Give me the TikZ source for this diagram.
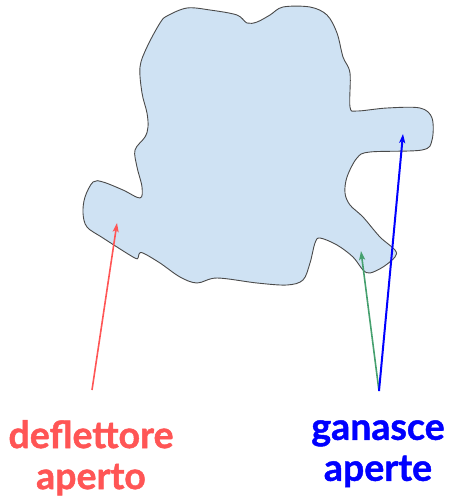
\documentclass[tikz,border=0pt]{standalone}
\usepackage{fontspec}
\newfontfamily\labfont{Lato}[BoldFeatures={FakeBold=1.2}]
\usetikzlibrary{arrows.meta}
\definecolor{blobfill}{HTML}{CFE2F3}
\definecolor{blobline}{HTML}{4A4A4A}
\definecolor{lred}{HTML}{FF5555}
\definecolor{lgreen}{HTML}{45A06E}
\definecolor{lblue}{HTML}{0000FF}
\tikzset{
  blob/.style={fill=blobfill, draw=blobline, line width=0.9pt},
  pointer/.style={-{Stealth[length=9pt,width=6pt,inset=2pt]}, line width=1.6pt},
  caption/.style={font=\labfont\bfseries\fontsize{37.5}{41}\selectfont, align=center, anchor=north, inner sep=0pt}
}
\begin{document}
\begin{tikzpicture}[x=1pt,y=-1pt]
\useasboundingbox (0,0) rectangle (452,498);
% outline of the body
\draw[blob] plot[smooth cycle, tension=0.55] coordinates {
 (160,23) (167,16) (187,8) (210,10) (237,15) (247,23) (257,22) (270,15)
 (283,7) (310,7) (327,15) (337,33) (343,57) (350,73) (350,107) (357,111)
 (387,108) (420,108) (432,118) (432,140) (422,150) (370,152) (357,158)
 (347,177) (345,193) (350,205) (363,217) (380,237) (395,250) (395,257)
 (383,267) (370,273) (363,270) (353,257) (337,245) (320,238) (315,243)
 (310,263) (303,280) (287,285) (257,283) (217,278) (197,283) (180,277)
 (160,263) (143,253) (139,254) (138,258) (133,257) (103,238) (87,227)
 (83,213) (85,197) (93,182) (103,182) (123,190) (140,198) (142,187)
 (137,167) (135,150) (145,137) (148,127) (147,113) (142,93) (140,67) (147,47)
};
% labels
\node[caption, text=lred] (defl) at (91,420) {deflettore\\aperto};
\node[caption, text=lblue] (gan) at (378,420) {ganasce\\aperte};
% arrow tips
\coordinate (redtip) at (117,223);
\coordinate (greentip) at (361,251);
\coordinate (bluetip) at (403,134);
\coordinate (redstart) at (92,390);
\coordinate (rightstart) at (379,391);
\draw[pointer, lred] (redstart) -- (redtip);
\draw[pointer, lgreen] (rightstart) -- (greentip);
\draw[pointer, lblue, line width=2pt] (rightstart) -- (bluetip);
\end{tikzpicture}
\end{document}
